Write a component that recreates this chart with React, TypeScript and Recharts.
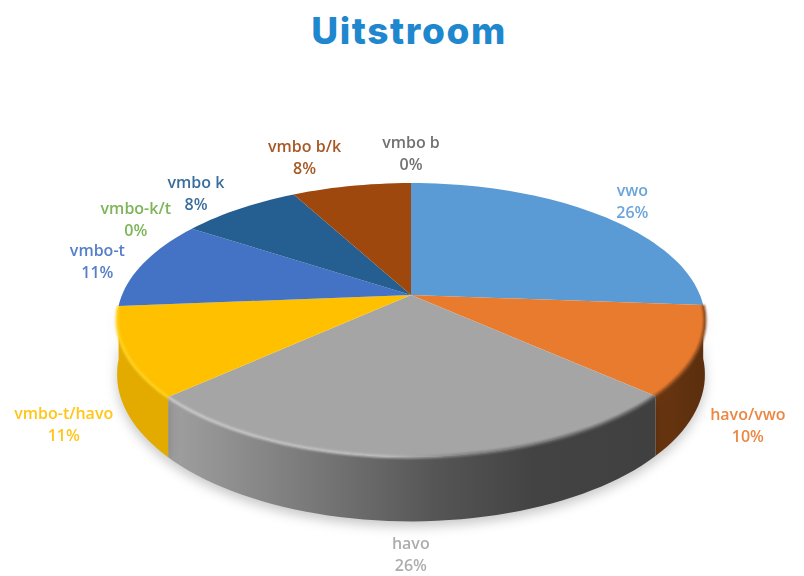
import { PieChart, Pie } from "recharts";

const names = ["vwo", "havo/vwo", "havo", "vmbo-t/havo", "vmbo-t", "vmbo-k/t", "vmbo k", "vmbo b/k", "vmbo b"];
const values = [26.2, 10.49, 26.49, 10.51, 10.6, 0, 7.9, 7.81, 0];
const colors = ["#5B9BD5", "#E97B2F", "#A5A5A5", "#FFC000", "#4472C4", "#70AD47", "#255E91", "#9E480E", "#636363"];
const wallColors = ["#2F6396", "url(#wallOrange)", "url(#wallGrey)", "#E3AB00", "#2F5597", "#4F7A32", "#1A4268", "#6E320A", "#444444"];
const rimColors = ["none", "#8A4A1C", "url(#rimGrey)", "#FFD21F", "none", "none", "none", "none", "none"];

const chartData = names.map((name, i) => ({ name, value: values[i], fill: colors[i] }));

// hand-tuned label shifts, the labels sit around the pie in the original
const labelNudge: Record<string, [number, number]> = {
  vwo: [0, -1],
  "havo/vwo": [-12, 0.5],
  havo: [-2, -5.5],
  "vmbo-t/havo": [1, -1.5],
  "vmbo-t": [5, 2],
  "vmbo-k/t": [-17, 1],
  "vmbo k": [-14, -2],
  "vmbo b/k": [-37, -12],
  "vmbo b": [0, -13],
};

const RAD = Math.PI / 180;
const TILT = 0.458; // vertical squash of the disc
const PERSPECTIVE = 0.1825; // far edge shrinks, near edge grows
const LABEL_DEPTH = 60;
const WALL_DEPTH = 52.7; // grows towards the viewer, see wallBottom

// pie plane to screen, with a bit of perspective
function project(cx: number, cy: number, r: number, deg: number, scale = 1) {
  const u = Math.cos(deg * RAD) * scale;
  const v = Math.sin(deg * RAD) * scale;
  const w = 1 + PERSPECTIVE * v;
  return { x: cx + (r * u) / w, y: cy - (r * TILT * v) / w };
}

function arcAngles(from: number, to: number) {
  const steps = Math.max(2, Math.ceil(Math.abs(to - from) / 2));
  const angles = [];
  for (let i = 0; i <= steps; i++) {
    angles.push(from + ((to - from) * i) / steps);
  }
  return angles;
}

function wallBottom(cx: number, cy: number, r: number, deg: number) {
  const p = project(cx, cy, r, deg);
  const w = 1 + PERSPECTIVE * Math.sin(deg * RAD);
  return { x: p.x, y: p.y + WALL_DEPTH / w };
}

const toPath = (pts: { x: number; y: number }[]) =>
  pts.map((p, i) => `${i === 0 ? "M" : "L"}${p.x.toFixed(1)},${p.y.toFixed(1)}`).join(" ");

function WallShape(props: any) {
  const { cx, cy, outerRadius, startAngle, endAngle, name } = props;
  // back slices have no visible wall
  if (Math.sin(((startAngle + endAngle) / 2) * RAD) > 0) return <g />;
  const angles = arcAngles(startAngle, endAngle);
  const top = angles.map((a) => project(cx, cy, outerRadius, a));
  const bottom = angles.map((a) => wallBottom(cx, cy, outerRadius, a)).reverse();
  return (
    <path
      d={`${toPath(top)} ${toPath(bottom).replace("M", "L")} Z`}
      fill={wallColors[names.indexOf(name ?? props.payload?.name)]}
      style={{ filter: "drop-shadow(0 5px 6px rgba(0,0,0,0.22))" }}
    />
  );
}

function TopShape(props: any) {
  const { cx, cy, outerRadius, startAngle, endAngle, fill, name } = props;
  const arc = arcAngles(startAngle, endAngle).map((a) => project(cx, cy, outerRadius, a));
  const rim = rimColors[names.indexOf(name ?? props.payload?.name)];
  return (
    <g>
      <path d={`M${cx},${cy} ${toPath(arc).replace("M", "L")} Z`} fill={fill} />
      {rim !== "none" && (
        <path d={toPath(arc)} fill="none" stroke={rim} strokeWidth={3} style={{ filter: "blur(1px)" }} />
      )}
    </g>
  );
}

function renderLabel(props: any) {
  const { cx, cy, outerRadius, midAngle, name, value, fill } = props;
  const p = project(cx, cy, outerRadius, midAngle, 1.2);
  const isFront = Math.sin(midAngle * RAD) < -0.3;
  const [dx, dy] = labelNudge[name];
  const x = p.x + dx;
  const y = p.y + dy + (isFront ? LABEL_DEPTH : 0);
  return (
    <text
      key={name}
      x={x}
      y={y}
      textAnchor="middle"
      fill={fill}
      fontFamily="'Open Sans', sans-serif"
      fontWeight={600}
      fontSize={16}
      opacity={0.9}
    >
      <tspan x={x} dy={-4}>{name}</tspan>
      <tspan x={x} dy={22}>{`${Math.round(value)}%`}</tspan>
    </text>
  );
}

export default function App() {
  return (
    <div style={{ position: "absolute", left: 0, top: 0, width: 804, height: 576, background: "#fff" }}>
      <svg width={0} height={0} style={{ position: "absolute" }}>
        <defs>
          <linearGradient id="wallGrey" x1="0" y1="0" x2="1" y2="0">
            <stop offset="0" stopColor="#A0A0A0" />
            <stop offset="0.3" stopColor="#787878" />
            <stop offset="0.55" stopColor="#555555" />
            <stop offset="0.75" stopColor="#434343" />
            <stop offset="1" stopColor="#404040" />
          </linearGradient>
          <linearGradient id="wallOrange" x1="0" y1="0" x2="1" y2="0">
            <stop offset="0" stopColor="#6A3610" />
            <stop offset="1" stopColor="#5A2E0E" />
          </linearGradient>
          <linearGradient id="rimGrey" x1="0" y1="0" x2="1" y2="0">
            <stop offset="0" stopColor="#C8C8C8" />
            <stop offset="0.45" stopColor="#BDBDBD" />
            <stop offset="0.6" stopColor="#808080" />
            <stop offset="1" stopColor="#5A5A5A" />
          </linearGradient>
        </defs>
      </svg>
      <div
        style={{
          position: "absolute",
          top: 8,
          left: 0,
          width: 818,
          textAlign: "center",
          fontFamily: "Inter, sans-serif",
          fontWeight: 800,
          fontSize: 37,
          letterSpacing: 1.6,
          lineHeight: "46px",
          color: "#1F87CE",
        }}
      >
        Uitstroom
      </div>
      <div style={{ position: "absolute", left: 0, top: 0 }}>
        <PieChart width={804} height={576} margin={{ top: 0, right: 0, bottom: 0, left: 0 }}>
          <Pie
            data={chartData}
            dataKey="value"
            nameKey="name"
            cx={411}
            cy={295}
            outerRadius={289}
            startAngle={90}
            endAngle={-270}
            stroke="none"
            shape={WallShape}
            label={false}
            labelLine={false}
            isAnimationActive={false}
          />
          <Pie
            data={chartData}
            dataKey="value"
            nameKey="name"
            cx={411}
            cy={295}
            outerRadius={289}
            startAngle={90}
            endAngle={-270}
            stroke="none"
            shape={TopShape}
            label={renderLabel}
            labelLine={false}
            isAnimationActive={false}
          />
        </PieChart>
      </div>
    </div>
  );
}
